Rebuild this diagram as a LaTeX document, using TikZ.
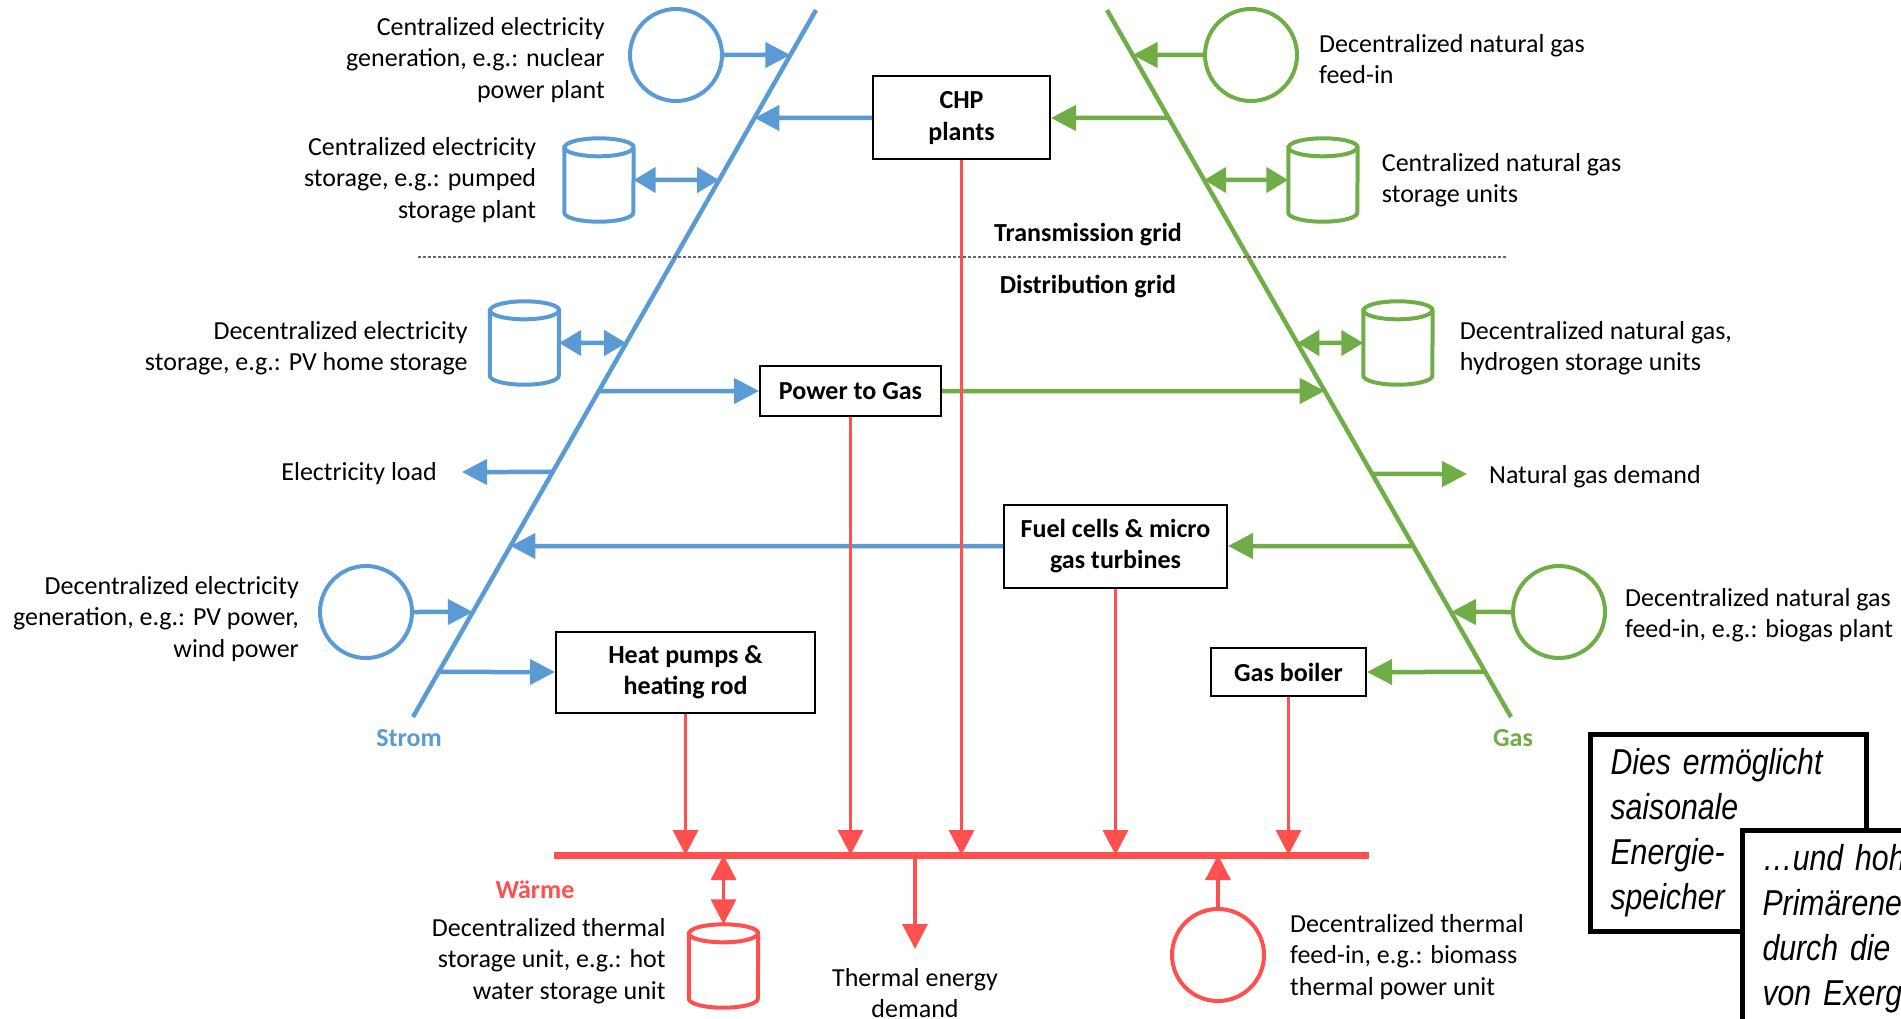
\documentclass[tikz,border=0pt]{standalone}
\usepackage{fontspec}
\setmainfont{Carlito}
\newfontfamily\notefont[FakeStretch=0.84]{Liberation Sans}
\usetikzlibrary{positioning}
\usetikzlibrary{calc}
\usetikzlibrary{arrows.meta}

\definecolor{elecblue}{RGB}{91,155,213}
\definecolor{gasgreen}{RGB}{112,173,71}
\definecolor{heatred}{RGB}{255,80,80}

% storage tank: name, centre, colour
\newcommand{\tank}[3]{%
  \node[minimum width=69pt, minimum height=83pt, inner sep=0pt] (#1) at (#2) {};
  \draw[#3, line width=4pt, fill=white]
    ($(#1.north west)+(0pt,-9pt)$) -- ($(#1.south west)+(0pt,9pt)$)
    arc[start angle=180, end angle=360, x radius=34.5pt, y radius=9pt]
    -- ($(#1.north east)+(0pt,-9pt)$)
    arc[start angle=0, end angle=180, x radius=34.5pt, y radius=9pt] -- cycle;
  \draw[#3, line width=4pt]
    ($(#1.north west)+(0pt,-9pt)$)
    arc[start angle=180, end angle=360, x radius=34.5pt, y radius=9pt];
}

\begin{document}
\begin{tikzpicture}[x=1pt, y=-1pt,
    every node/.style={font=\fontsize{26}{31.5}\selectfont},
    unit/.style={draw, line width=2pt, fill=white, inner sep=0pt, align=center,
      font=\fontsize{26}{31.5}\selectfont\bfseries},
    source/.style={draw, circle, line width=4pt, minimum size=92pt, inner sep=0pt},
    lbl/.style={inner sep=0pt, align=#1}, lbl/.default=left,
    flow/.style={-{Triangle[length=25pt,width=25pt]}, line width=4.5pt},
    both/.style={{Triangle[length=22pt,width=25pt]}-{Triangle[length=22pt,width=25pt]}, line width=4.5pt},
    hflow/.style={-{Triangle[length=25pt,width=25pt]}, line width=3.5pt, heatred},
    note/.style={draw, line width=5pt, fill=white, anchor=north west, align=left,
      inner xsep=20pt, inner ysep=14pt, font=\notefont\itshape\fontsize{36}{45}\selectfont}]
    \useasboundingbox (0,0) rectangle (1901,1019);

    % busbars
    \coordinate (sTop) at (816,10);
    \coordinate (sBot) at (413,717);
    \coordinate (gTop) at (1107,10);
    \coordinate (gBot) at (1511,717);
    \draw[elecblue, line width=4.5pt] (sTop) -- (sBot);
    \draw[gasgreen, line width=4.5pt] (gTop) -- (gBot);
    \foreach \y in {55,118,180,343,391,472,474,546,612,672} {
        \coordinate (s\y) at ($(sTop)!{(\y-10)/707}!(sBot)$);
        \coordinate (g\y) at ($(gTop)!{(\y-10)/707}!(gBot)$);
    }
    \coordinate (barL) at (554,855);
    \coordinate (barR) at (1369,855);
    \draw[heatred, line width=7pt] (barL) -- (barR);

    \node[font=\fontsize{26}{31.5}\selectfont\bfseries, elecblue] (strom) at (409,738) {Strom};
    \node[font=\fontsize{26}{31.5}\selectfont\bfseries, gasgreen] (gas) at (1513,738) {Gas};
    \node[font=\fontsize{26}{31.5}\selectfont\bfseries, heatred] (waerme) at (535,890) {Wärme};

    % grid levels
    \draw[gray!80!black, line width=1.5pt, dash pattern=on 3pt off 2pt] (418,257) -- (1507,257);
    \node[font=\fontsize{26}{31.5}\selectfont\bfseries] (trans) at (1088,235) {Transmission grid};
    \node[font=\fontsize{26}{31.5}\selectfont\bfseries] (dist) at (1088,287) {Distribution grid};

    % converters
    \node[unit, minimum width=177pt, minimum height=83pt] (chp) at (961.5,118) {CHP\\plants};
    \node[unit, minimum width=181pt, minimum height=50pt] (p2g) at (850.5,391) {Power to Gas};
    \node[unit, minimum width=223pt, minimum height=83pt] (fc) at (1115.5,546) {Fuel cells \& micro\\gas turbines};
    \node[unit, minimum width=259pt, minimum height=81pt] (hp) at (685.5,672) {Heat pumps \&\\heating rod};
    \node[unit, minimum width=155pt, minimum height=48pt] (gb) at (1288.5,672) {Gas boiler};

    % sources and storage
    \node[source, elecblue] (nuc) at (676,55) {};
    \node[source, elecblue] (pvgen) at (366,612) {};
    \node[source, gasgreen] (gfeed) at (1251,55) {};
    \node[source, gasgreen] (bio) at (1559,612) {};
    \node[source, heatred] (tfeed) at (1218,955) {};
    \tank{pump}{599,180}{elecblue}
    \tank{pvsto}{524.5,343}{elecblue}
    \tank{cgas}{1323,180}{gasgreen}
    \tank{dgas}{1398,343}{gasgreen}
    \tank{hot}{723.5,966}{heatred}

    \coordinate (eload) at (462,472);
    \coordinate (gdem) at (1467,474);
    \coordinate (tdem) at (915,949);

    % labels
    \node[lbl=right, left=23pt of nuc, yshift=-5pt] {Centralized electricity\\generation, e.g.: nuclear\\power plant};
    \node[lbl=right, left=28pt of pump] {Centralized electricity\\storage, e.g.: pumped\\storage plant};
    \node[lbl=right, left=22pt of pvsto, yshift=-5pt] {Decentralized electricity\\storage, e.g.: PV home storage};
    \node[lbl=right, left=25pt of eload, yshift=-2pt] {Electricity load};
    \node[lbl=right, left=19pt of pvgen, yshift=-7pt] {Decentralized electricity\\generation, e.g.: PV power,\\wind power};
    \node[lbl, right=20pt of gfeed, yshift=-4pt] {Decentralized natural gas\\feed-in};
    \node[lbl, right=24pt of cgas] {Centralized natural gas\\storage units};
    \node[lbl, right=27pt of dgas, yshift=-5pt] {Decentralized natural gas,\\hydrogen storage units};
    \node[lbl, right=22pt of gdem, yshift=-3pt] {Natural gas demand};
    \node[lbl, right=18pt of bio, yshift=-3pt] {Decentralized natural gas\\feed-in, e.g.: biogas plant};
    \node[lbl=right, left=23pt of hot, yshift=5pt] {Decentralized thermal\\storage unit, e.g.: hot\\water storage unit};
    \node[lbl=center, below=19pt of tdem] {Thermal energy\\demand};
    \node[lbl, right=24pt of tfeed, yshift=-2pt] {Decentralized thermal\\feed-in, e.g.: biomass\\thermal power unit};

    % electricity
    \draw[flow, elecblue] (nuc) -- (s55);
    \draw[flow, elecblue] (chp) -- (s118);
    \draw[both, elecblue] (pump) -- (s180);
    \draw[both, elecblue] (pvsto) -- (s343);
    \draw[flow, elecblue] (s391) -- (p2g);
    \draw[flow, elecblue] (s472) -- (eload);
    \draw[flow, elecblue] (fc) -- (s546);
    \draw[flow, elecblue] (pvgen) -- (s612);
    \draw[flow, elecblue] (s672) -- (hp);

    % gas
    \draw[flow, gasgreen] (gfeed) -- (g55);
    \draw[flow, gasgreen] (g118) -- (chp);
    \draw[both, gasgreen] (g180) -- (cgas);
    \draw[both, gasgreen] (g343) -- (dgas);
    \draw[flow, gasgreen] (p2g) -- (g391);
    \draw[flow, gasgreen] (g474) -- (gdem);
    \draw[flow, gasgreen] (g546) -- (fc);
    \draw[flow, gasgreen] (bio) -- (g612);
    \draw[flow, gasgreen] (g672) -- (gb);

    % heat
    \draw[hflow] (hp.south) -- (hp.south |- barL);
    \draw[hflow] (p2g.south) -- (p2g.south |- barL);
    \draw[hflow] (chp.south) -- (chp.south |- barL);
    \draw[hflow] (fc.south) -- (fc.south |- barL);
    \draw[hflow] (gb.south) -- (gb.south |- barL);
    \draw[hflow, {Triangle[length=25pt,width=25pt]}-{Triangle[length=25pt,width=25pt]}] (hot.north |- barL) -- (hot.north);
    \draw[hflow] (tdem |- barL) -- (tdem);
    \draw[hflow] (tfeed) -- (tfeed |- barL);

    % overlaid notes
    \node[note, text width=236pt] (note1) at (1588,732) {Dies ermöglicht\\saisonale\\Energie-\\speicher};
    \node[note, text width=320pt] (note2) at (1740,828) {…und hohe\\Primärenergie\\durch die Ver\\von Exergie};
\end{tikzpicture}
\end{document}
